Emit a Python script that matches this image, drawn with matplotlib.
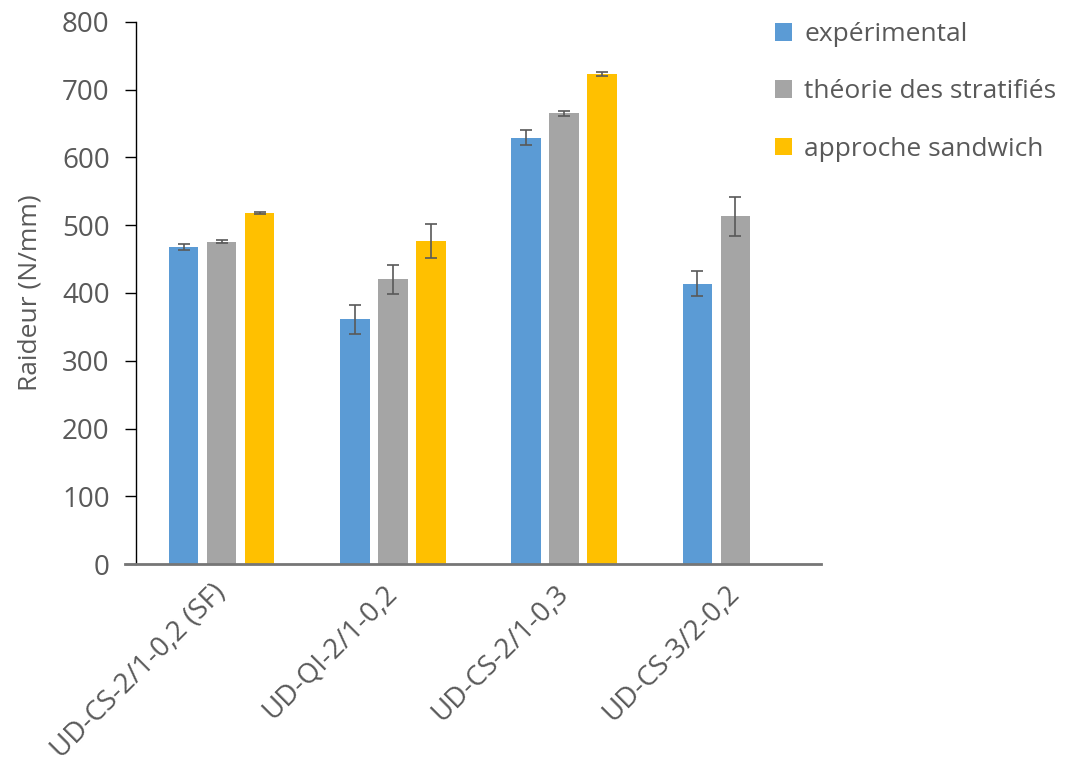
import numpy as np
import matplotlib.pyplot as plt

# Data
categories = ['UD-CS-2/1-0,2 (SF)', 'UD-QI-2/1-0,2', 'UD-CS-2/1-0,3', 'UD-CS-3/2-0,2']
series_names = ['expérimental', 'théorie des stratifiés', 'approche sandwich']
experimental = [468, 361, 629, 414]
experimental_err = [4.5, 21, 11, 19]
theorie = [476, 420, 665, 513]
theorie_err = [2, 21, 3.5, 29]
sandwich = [518, 477, 723, np.nan]
sandwich_err = [1, 25, 3, np.nan]

colors = ['#5B9BD5', '#A5A5A5', '#FFC000']
plt.rcParams['font.family'] = ['Open Sans', 'DejaVu Sans']

fig = plt.figure(figsize=(10.67, 7.66), dpi=100)
ax = fig.add_axes([0.1275, 0.2637, 0.642, 0.7076])

x = np.arange(len(categories))
width = 0.172
step = 0.222
values = [experimental, theorie, sandwich]
errors = [experimental_err, theorie_err, sandwich_err]
for i, (vals, errs) in enumerate(zip(values, errors)):
    ax.bar(x + (i - 1) * step, vals, width, color=colors[i], label=series_names[i],
           yerr=errs, capsize=4.5, zorder=2,
           error_kw=dict(ecolor='#595959', elinewidth=1.2, capthick=1.2))

ax.set_xlim(-0.5, 3.5)
ax.set_ylim(0, 800)
ax.set_yticks(range(0, 801, 100))
ax.set_xticks(x)
ax.set_xticklabels(categories, rotation=45, ha='right', va='center',
                   rotation_mode='anchor')

for s in ['top', 'right', 'bottom']:
    ax.spines[s].set_visible(False)
ax.spines['left'].set_color('black')
ax.spines['left'].set_linewidth(1.0)
# baseline extending past the y axis like the original
ax.plot([-0.016, 1], [0, 0], transform=ax.transAxes, color='#767676',
        lw=2, clip_on=False, zorder=3)

ax.tick_params(axis='y', direction='out', length=8, width=1, color='black',
               labelsize=20, labelcolor='#595959', pad=11)
ax.tick_params(axis='x', length=0, labelsize=20, labelcolor='#595959', pad=18)
ax.set_ylabel('Raideur (N/mm)', fontsize=19, color='#595959', labelpad=14)

leg = ax.legend(loc='upper left', bbox_to_anchor=(0.933, 1.0), frameon=False,
                fontsize=19, labelcolor='#595959', handlelength=0.65,
                handleheight=0.65, handletextpad=0.45, labelspacing=1.23,
                borderaxespad=0, borderpad=0)

fig.savefig('out.png', dpi=100)
